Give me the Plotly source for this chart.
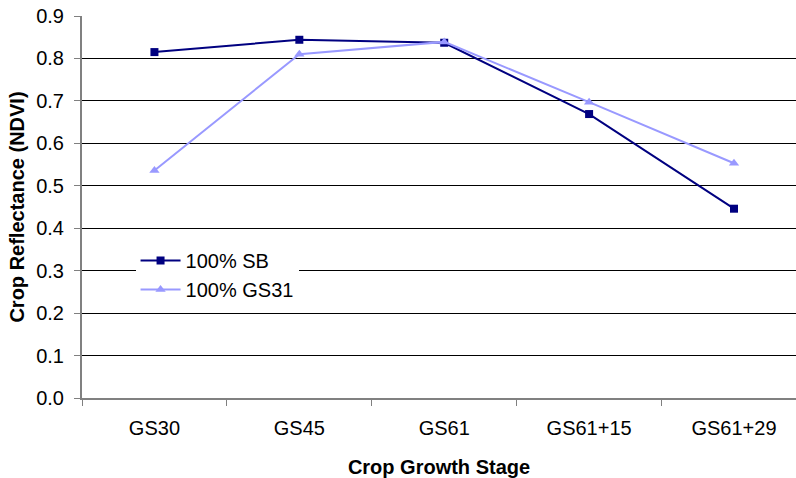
import plotly.graph_objects as go

stages = ["GS30", "GS45", "GS61", "GS61+15", "GS61+29"]
sb_100 = [0.815, 0.844, 0.837, 0.669, 0.446]
gs31_100 = [0.536, 0.810, 0.839, 0.697, 0.553]

font_family = "Liberation Sans, Arial, sans-serif"
fs = 20

fig = go.Figure()
fig.add_trace(go.Scatter(
    x=stages, y=sb_100, name="100% SB", mode="lines+markers",
    line=dict(color="#000080", width=2),
    marker=dict(symbol="square", size=8, color="#000080"),
))
fig.add_trace(go.Scatter(
    x=stages, y=gs31_100, name="100% GS31", mode="lines+markers",
    line=dict(color="#9999FF", width=2),
    marker=dict(symbol="triangle-up", size=9, color="#9999FF"),
))

fig.update_layout(
    width=796, height=478,
    margin=dict(l=82, r=0, t=16, b=80),
    paper_bgcolor="white", plot_bgcolor="white",
    font=dict(family=font_family, size=fs, color="black"),
    showlegend=True,
    legend=dict(
        x=0.075, y=0.411, xanchor="left", yanchor="top",
        bgcolor="white", borderwidth=0,
        font=dict(family=font_family, size=fs, color="black"),
        itemwidth=40,
    ),
    xaxis=dict(
        type="category", range=[-0.5, 4.428],
        showgrid=False, showline=True, linecolor="#808080", linewidth=2,
        ticks="outside", tickson="boundaries", ticklen=6, tickcolor="#808080",
        tickfont=dict(size=fs), ticklabelstandoff=11,
        title=dict(text="<b>Crop Growth Stage</b>", font=dict(size=fs), standoff=22),
    ),
    yaxis=dict(
        range=[0, 0.9], dtick=0.1, tickformat=".1f",
        showgrid=True, gridcolor="black", gridwidth=1,
        showline=True, linecolor="#808080", linewidth=2,
        ticks="outside", ticklen=6, tickcolor="#808080",
        tickfont=dict(size=fs), zeroline=False, ticklabelstandoff=6,
        title=dict(text="<b>Crop Reflectance (NDVI)</b>", font=dict(size=fs), standoff=6),
    ),
)

fig.write_html("out.html")
